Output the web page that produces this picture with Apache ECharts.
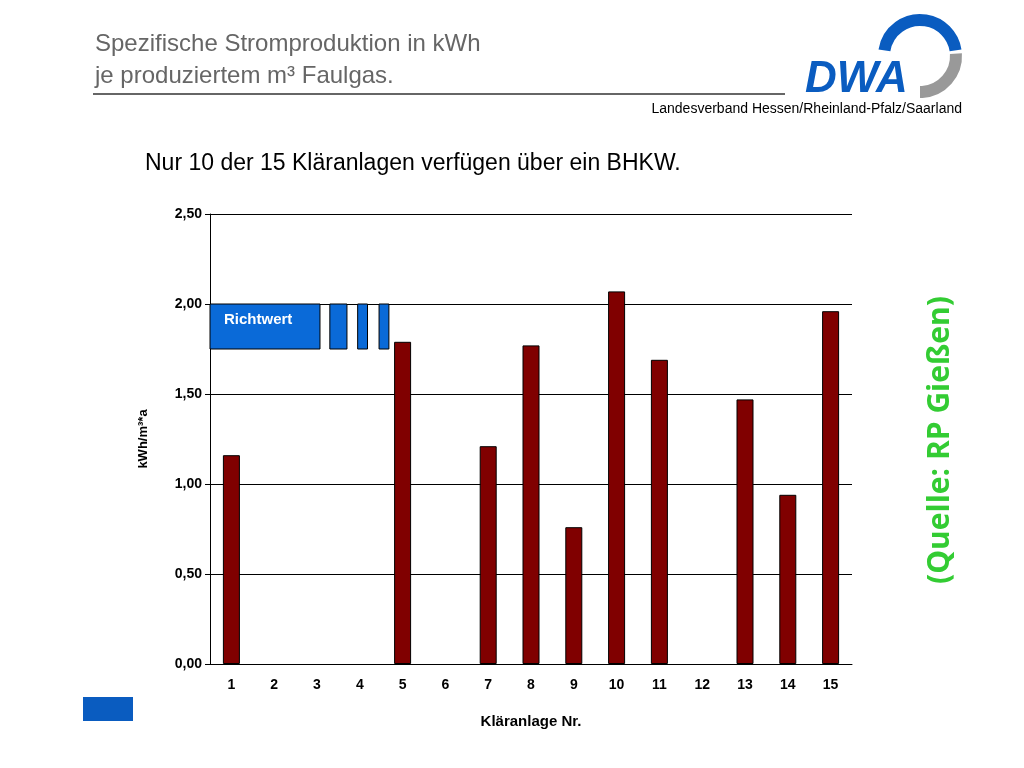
<!DOCTYPE html><html><head><meta charset="utf-8"><script src="https://cdn.jsdelivr.net/npm/echarts@6/dist/echarts.min.js"></script></head><body style="margin:0"><div id="c" style="width:1024px;height:768px"></div><script>
const categories=['1','2','3','4','5','6','7','8','9','10','11','12','13','14','15'];
const values=[1.16,null,null,null,1.79,null,1.21,1.77,0.76,2.07,1.69,null,1.47,0.94,1.96];
const yTicks=['0,00','0,50','1,00','1,50','2,00','2,50'];
const richtwert=[[0,2.57,1.75,2.0],[2.8,3.2,1.75,2.0],[3.45,3.68,1.75,2.0],[3.95,4.18,1.75,2.0]];
const ch=echarts.init(document.getElementById('c'));
ch.setOption({
animation:false,
textStyle:{fontFamily:'Liberation Sans, Arial'},
grid:{left:210,right:172,top:214,bottom:104},
xAxis:[{type:'category',data:categories,axisTick:{show:false},axisLine:{lineStyle:{color:'#000'}},
 axisLabel:{color:'#000',fontWeight:'bold',fontSize:14,margin:14},
 name:'Kläranlage Nr.',nameLocation:'middle',nameGap:50,nameTextStyle:{fontWeight:'bold',fontSize:15,color:'#000'}},
 {type:'value',min:0,max:15,show:false}],
yAxis:{type:'value',min:0,max:2.5,interval:0.5,
 axisLine:{show:true,lineStyle:{color:'#000'}},axisTick:{show:true,inside:false,length:5,lineStyle:{color:'#000'}},
 axisLabel:{color:'#000',fontWeight:'bold',fontSize:14,formatter:v=>yTicks[Math.round(v*2)]},
 splitLine:{lineStyle:{color:'#000'}},
 name:'kWh/m³*a',nameLocation:'middle',nameGap:60,nameTextStyle:{fontWeight:'bold',fontSize:13,color:'#000'}},
series:[
{type:'bar',data:values,barWidth:17,itemStyle:{color:'#800000',borderColor:'#000',borderWidth:1}},
{type:'custom',xAxisIndex:1,data:richtwert,renderItem:(p,api)=>{
 const a=api.coord([api.value(0),api.value(3)]),b=api.coord([api.value(1),api.value(2)]);
 const r={type:'rect',shape:{x:a[0],y:a[1],width:b[0]-a[0],height:b[1]-a[1]},style:{fill:'#0a6ad8',stroke:'#000',lineWidth:1}};
 if(p.dataIndex===0) return {type:'group',children:[r,{type:'text',style:{text:'Richtwert',x:a[0]+14,y:a[1]+8,fill:'#fff',font:'bold 15px Liberation Sans'}}]};
 return r;}}
],
graphic:[
{type:'text',left:95,top:28,style:{text:'Spezifische Stromproduktion in kWh\nje produziertem m³ Faulgas.',font:'24px Liberation Sans',fill:'#666',lineHeight:32}},
{type:'line',shape:{x1:93,y1:94,x2:785,y2:94},style:{stroke:'#333',lineWidth:1.5}},
{type:'text',right:62,top:102,style:{text:'Landesverband Hessen/Rheinland-Pfalz/Saarland',font:'14px Liberation Sans',fill:'#000'}},
{type:'text',left:145,top:152,style:{text:'Nur 10 der 15 Kläranlagen verfügen über ein BHKW.',font:'23px Liberation Sans',fill:'#000'}},
{type:'text',x:940,y:440,rotation:Math.PI/2,style:{text:'(Quelle: RP Gießen)',font:'bold 30px Open Sans',fill:'#33cc33',align:'center',verticalAlign:'middle'}},
{type:'rect',shape:{x:83,y:697,width:50,height:24},style:{fill:'#0a5cc0'}},
{type:'arc',shape:{cx:920,cy:56,r:36,startAngle:-Math.PI*0.95,endAngle:-Math.PI*0.05},style:{stroke:'#0a5cc0',lineWidth:12,fill:'none'}},
{type:'arc',shape:{cx:920,cy:56,r:36,startAngle:-Math.PI*0.02,endAngle:Math.PI*0.5},style:{stroke:'#999',lineWidth:12,fill:'none'}},
{type:'text',left:805,top:58,style:{text:'DWA',font:'italic bold 44px Liberation Sans',fill:'#0a5cc0'}}
]});
</script></body></html>
